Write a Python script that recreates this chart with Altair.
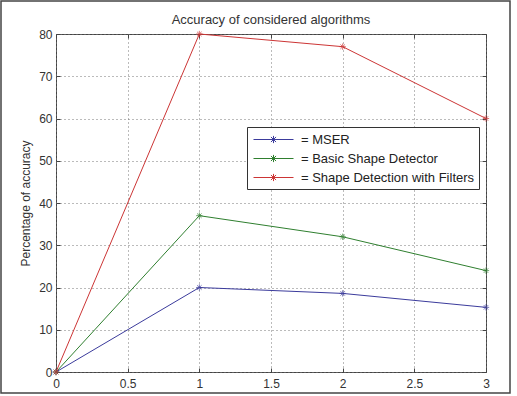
import altair as alt
import pandas as pd

x_vals = [0, 1, 2, 3]
series_names = ["MSER", "Basic Shape Detector", "Shape Detection with Filters"]
mser = [0, 20, 18.6, 15.3]
basic = [0, 37, 32, 24]
filters = [0, 80, 77, 60]
colors = ["#3b3b9c", "#2f7f2f", "#cc3535"]
title_text = "Accuracy of considered algorithms"
x_ticks = [0, 0.5, 1, 1.5, 2, 2.5, 3]
y_ticks = [0, 10, 20, 30, 40, 50, 60, 70, 80]

rows = []
for name, vals in zip(series_names, [mser, basic, filters]):
    for xv, yv in zip(x_vals, vals):
        rows.append({"x": xv, "y": yv, "series": name, "order": series_names.index(name)})
df = pd.DataFrame(rows)

FONT = "Liberation Sans"
STAR = "M-1,0L1,0M0,-1L0,1M-0.7,-0.7L0.7,0.7M-0.7,0.7L0.7,-0.7"
LEG_SYM = ("M-2.5,0L2.5,0M0,-0.45L0,0.45M-0.45,0L0.45,0"
           "M-0.32,-0.32L0.32,0.32M-0.32,0.32L0.32,-0.32")

xscale = alt.Scale(domain=[0, 3], nice=False, zero=False)
yscale = alt.Scale(domain=[0, 80], nice=False)
cscale = alt.Scale(domain=series_names, range=colors)

xaxis = alt.Axis(values=x_ticks, title=None, grid=True,
                 gridDash=[1, 3], gridColor="#777", gridOpacity=1, format="~g",
                 tickSize=0, labelPadding=6, labelFontSize=12, labelColor="#333",
                 labelFont=FONT, domain=False, labelFlush=False)
yaxis = alt.Axis(values=y_ticks, title="Percentage of accuracy",
                 grid=True, gridDash=[1, 3], gridColor="#777", gridOpacity=1,
                 tickSize=0, labelPadding=4, labelFontSize=12, labelColor="#333",
                 labelFont=FONT, titleFont=FONT, titleFontSize=12, titleFontWeight="normal",
                 titleColor="#333", titlePadding=6, domain=False, labelFlush=False)


def tick_axis(values, orient):
    return alt.Axis(values=values, orient=orient, title=None, labels=False, grid=False,
                    domain=False, ticks=True, tickSize=4, tickColor="#444",
                    tickWidth=1, offset=-4)


base = alt.Chart(df)

lines = base.mark_line(strokeWidth=1, clip=False).encode(
    x=alt.X("x:Q", scale=xscale, axis=xaxis),
    y=alt.Y("y:Q", scale=yscale, axis=yaxis),
    color=alt.Color("series:N", scale=cscale, sort=series_names,
                    legend=alt.Legend(title=None, orient="none", legendX=191, legendY=93,
                                      symbolType=LEG_SYM, symbolSize=256,
                                      symbolStrokeWidth=1, symbolFillColor="transparent",
                                      symbolOffset=14, labelOffset=19, labelLimit=400,
                                      labelExpr="'= ' + datum.label",
                                      labelFont=FONT, labelFontSize=13, labelColor="#222",
                                      strokeColor="#333", fillColor="white",
                                      padding=4, rowPadding=3)),
    order="order:Q",
    detail="series:N",
)

points = base.mark_point(shape=STAR, filled=False, size=40, strokeWidth=1, clip=False).encode(
    x=alt.X("x:Q", scale=xscale, axis=tick_axis(x_ticks, "bottom")),
    y=alt.Y("y:Q", scale=yscale, axis=tick_axis(y_ticks, "left")),
    color=alt.Color("series:N", scale=cscale, legend=None),
    order="order:Q",
)

points2 = base.mark_point(opacity=0, size=1).encode(
    x=alt.X("x:Q", scale=xscale, axis=tick_axis(x_ticks, "top")),
    y=alt.Y("y:Q", scale=yscale, axis=tick_axis(y_ticks, "right")),
)

frame = alt.Chart(pd.DataFrame({"k": [0]})).mark_rect(
    filled=False, stroke="#444", strokeWidth=1.5, fill=None
).encode(x=alt.value(-55), x2=alt.value(454), y=alt.value(-33), y2=alt.value(359))

title = alt.Chart(pd.DataFrame({"t": [title_text]})).mark_text(
    font=FONT, fontSize=13, color="#333", align="center", baseline="alphabetic"
).encode(text="t:N", x=alt.value(215), y=alt.value(-10))

chart = alt.layer(frame, lines, points, points2, title).resolve_axis(
    x="independent", y="independent"
).properties(
    width=430, height=338,
    autosize=alt.AutoSizeParams(type="none"),
    padding={"left": 56, "top": 34, "right": 31, "bottom": 24},
    background="white",
).configure_view(stroke="#444", strokeWidth=1)

chart.save("out.html", embed_options={"renderer": "svg", "actions": False})
